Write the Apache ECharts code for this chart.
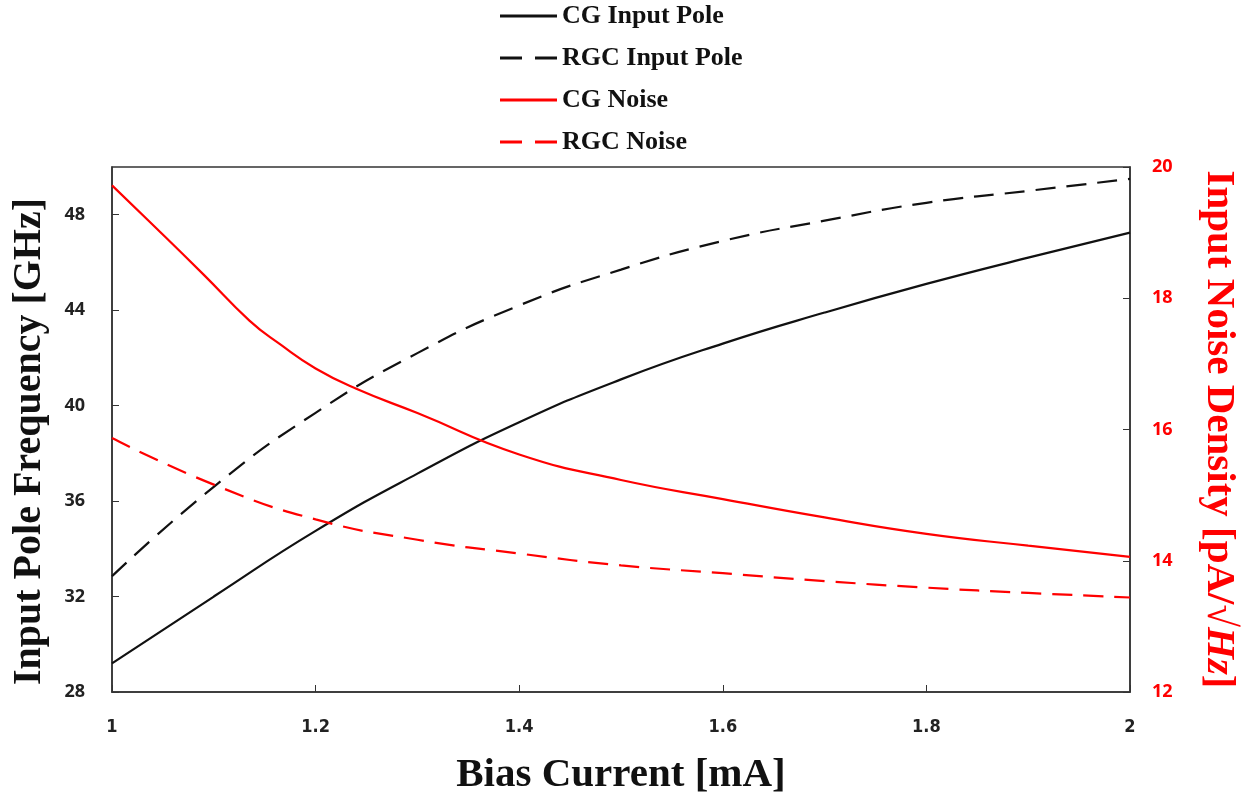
<!DOCTYPE html>
<html>
<head>
<meta charset="utf-8">
<script src="https://cdn.jsdelivr.net/npm/echarts@6/dist/echarts.min.js"></script>
<style>html,body{margin:0;padding:0;background:#fff;overflow:hidden;}#c{width:1247px;height:801px;}</style>
</head>
<body>
<div id="c"></div>
<script>
const biasCurrent = [1.0, 1.1, 1.2, 1.3, 1.4, 1.5, 1.6, 1.7, 1.8, 1.9, 2.0];
const cgPole  = [29.2, 32.0, 34.75, 37.15, 39.3, 41.1, 42.6, 43.9, 45.1, 46.2, 47.25];
const rgcPole = [32.85, 36.6, 39.7, 42.2, 44.2, 45.7, 46.9, 47.75, 48.5, 49.0, 49.5];
const cgNoiseX = [1.0, 1.04, 1.09, 1.135, 1.165, 1.2, 1.24, 1.3, 1.4, 1.5, 1.6, 1.7, 1.8, 1.9, 2.0];
const cgNoise  = [19.72, 19.12, 18.36, 17.66, 17.3, 16.93, 16.62, 16.25, 15.62, 15.23, 14.94, 14.66, 14.41, 14.23, 14.06];
const rgcNoise = [15.87, 15.16, 14.63, 14.32, 14.11, 13.93, 13.81, 13.69, 13.59, 13.51, 13.44];
const seriesNames = ['CG Input Pole', 'RGC Input Pole', 'CG Noise', 'RGC Noise'];

const pair = (xs, ys) => xs.map((x, i) => [x, ys[i]]);
const serif = 'Liberation Serif';
const solidIcon = 'path://M0,0H57V3H0Z';
const dashIcon = 'path://M0,0H22V3H0Z M35,0H57V3H35Z';
const chart = echarts.init(document.getElementById('c'));
chart.setOption({
  animation: false,
  backgroundColor: '#fff',
  legend: {
    orient: 'vertical', left: 495, top: -2,
    itemWidth: 57, itemHeight: 3, itemGap: 16,
    textStyle: { fontFamily: serif, fontWeight: 'bold', fontSize: 26, color: '#111' },
    data: [
      { name: seriesNames[0], icon: solidIcon, itemStyle: { color: '#111' } },
      { name: seriesNames[1], icon: dashIcon, itemStyle: { color: '#111' } },
      { name: seriesNames[2], icon: solidIcon, itemStyle: { color: '#ff0000' } },
      { name: seriesNames[3], icon: dashIcon, itemStyle: { color: '#ff0000' } }
    ]
  },
  grid: { left: 112, right: 115, top: 167, bottom: 107, show: true, borderColor: '#333', borderWidth: 1.5 },
  xAxis: {
    type: 'value', min: 1, max: 2, interval: 0.2,
    name: 'Bias Current [mA]', nameLocation: 'middle', nameGap: 63,
    nameTextStyle: { fontFamily: serif, fontWeight: 'bold', fontSize: 41, color: '#111' },
    axisLine: { show: true, lineStyle: { color: '#333', width: 1.5 } },
    axisTick: { show: true, inside: true, length: 7, lineStyle: { color: '#333' } },
    axisLabel: { margin: 26, fontFamily: 'Liberation Sans Narrow, DejaVu Sans Condensed', fontWeight: 'bold', fontSize: 18, color: '#222' },
    splitLine: { show: false }
  },
  yAxis: [{
    type: 'value', min: 28, max: 50, interval: 4, position: 'left',
    name: 'Input Pole Frequency [GHz]', nameLocation: 'middle', nameGap: 62, nameRotate: 90,
    nameTextStyle: { fontFamily: serif, fontWeight: 'bold', fontSize: 40, color: '#111', padding: [0, 24, 0, 0] },
    axisLine: { show: true, lineStyle: { color: '#333', width: 1.5 } },
    axisTick: { show: true, inside: true, length: 7, lineStyle: { color: '#333' } },
    axisLabel: { margin: 27, showMaxLabel: false, fontFamily: 'Open Sans', fontWeight: 'bold', fontSize: 18, color: '#222' },
    splitLine: { show: false }
  }, {
    type: 'value', min: 12, max: 20, interval: 2, position: 'right',
    name: '{n|Input Noise Density [pA/√}{i|Hz}{n|]}', nameLocation: 'middle', nameGap: 68, nameRotate: -90,
    nameTextStyle: { color: '#ff0000',
      rich: {
        n: { fontFamily: serif, fontWeight: 'bold', fontSize: 41, color: '#ff0000' },
        i: { fontFamily: serif, fontWeight: 'bold', fontStyle: 'italic', fontSize: 41, color: '#ff0000' }
      } },
    axisLine: { show: true, lineStyle: { color: '#333', width: 1.5 } },
    axisTick: { show: true, inside: true, length: 7, lineStyle: { color: '#333' } },
    axisLabel: { margin: 22, fontFamily: 'Open Sans', fontWeight: 'bold', fontSize: 18, color: '#ff0000' },
    splitLine: { show: false }
  }],
  series: [
    { name: seriesNames[0], type: 'line', yAxisIndex: 0, smooth: true, symbol: 'none',
      data: pair(biasCurrent, cgPole), lineStyle: { color: '#111', width: 2.2, type: 'solid' }, itemStyle: { color: '#111' } },
    { name: seriesNames[1], type: 'line', yAxisIndex: 0, smooth: true, symbol: 'none',
      data: pair(biasCurrent, rgcPole), lineStyle: { color: '#111', width: 2.2, type: [20, 11] }, itemStyle: { color: '#111' } },
    { name: seriesNames[2], type: 'line', yAxisIndex: 1, smooth: true, symbol: 'none',
      data: pair(cgNoiseX, cgNoise), lineStyle: { color: '#ff0000', width: 2.2, type: 'solid' }, itemStyle: { color: '#ff0000' } },
    { name: seriesNames[3], type: 'line', yAxisIndex: 1, smooth: true, symbol: 'none',
      data: pair(biasCurrent, rgcNoise), lineStyle: { color: '#ff0000', width: 2.2, type: [20, 11] }, itemStyle: { color: '#ff0000' } }
  ]
});
</script>
</body>
</html>
